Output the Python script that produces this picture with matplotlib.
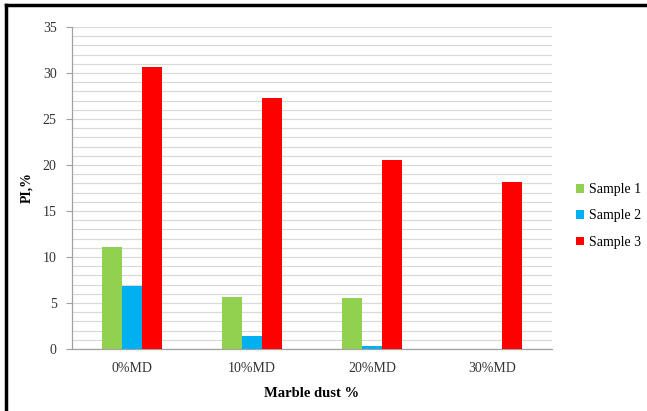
import matplotlib
matplotlib.use("Agg")
import matplotlib.pyplot as plt
import numpy as np
from matplotlib.lines import Line2D

categories = ["0%MD", "10%MD", "20%MD", "30%MD"]
sample1 = [11.1, 5.6, 5.5, 0.0]
sample2 = [6.9, 1.4, 0.3, 0.0]
sample3 = [30.6, 27.3, 20.5, 18.2]
series = ["Sample 1", "Sample 2", "Sample 3"]
colors = ["#92d050", "#00b0f0", "#ff0000"]

plt.rcParams['font.family'] = ['Liberation Serif', 'DejaVu Serif']

fig = plt.figure(figsize=(6.47, 4.11), dpi=100)
ax = fig.add_axes([72/647, 62/411, 480/647, 322/411])

x = np.arange(len(categories))
w = 1/6
for i, (vals, lab, c) in enumerate(zip([sample1, sample2, sample3], series, colors)):
    ax.bar(x + (i - 1)*w, vals, w, color=c, label=lab, zorder=3)

ax.set_xlim(-0.5, 3.5)
ax.set_ylim(0, 35)
ax.set_yticks(np.arange(0, 36, 5))
ax.set_yticks(np.arange(0, 36, 1), minor=True)
ax.grid(True, axis='y', which='both', color='#d9d9d9', lw=0.9, zorder=0)
ax.set_xticks(x)
ax.set_xticklabels(categories)
ax.tick_params(axis='x', length=0, pad=9, labelsize=10, colors='#333333')
ax.tick_params(axis='y', which='major', length=4, color='#a0a0a0', pad=7, labelsize=10, labelcolor='#333333')
ax.tick_params(axis='y', which='minor', length=0)
for s in ['top', 'right']:
    ax.spines[s].set_visible(False)
for s in ['left', 'bottom']:
    ax.spines[s].set_color('#a0a0a0')
    ax.spines[s].set_linewidth(0.9)

ax.set_xlabel("Marble dust %", fontweight='bold', fontsize=10.5, labelpad=9)
ax.set_ylabel("PI,%", fontweight='bold', fontsize=10, labelpad=7)

ax.legend(loc='center left', bbox_to_anchor=(576/647, 1 - 216/411), bbox_transform=fig.transFigure,
          frameon=False, fontsize=10, handlelength=0.55, handleheight=0.55,
          handletextpad=0.4, labelspacing=0.95, borderpad=0, borderaxespad=0)

# outer frame (top and left edges)
fig.add_artist(Line2D([6/647, 1], [1 - 5/411, 1 - 5/411], transform=fig.transFigure, color='black', lw=2.5))
fig.add_artist(Line2D([6/647, 6/647], [0, 1 - 5/411], transform=fig.transFigure, color='black', lw=2.5))

fig.savefig("out.png", dpi=100)
